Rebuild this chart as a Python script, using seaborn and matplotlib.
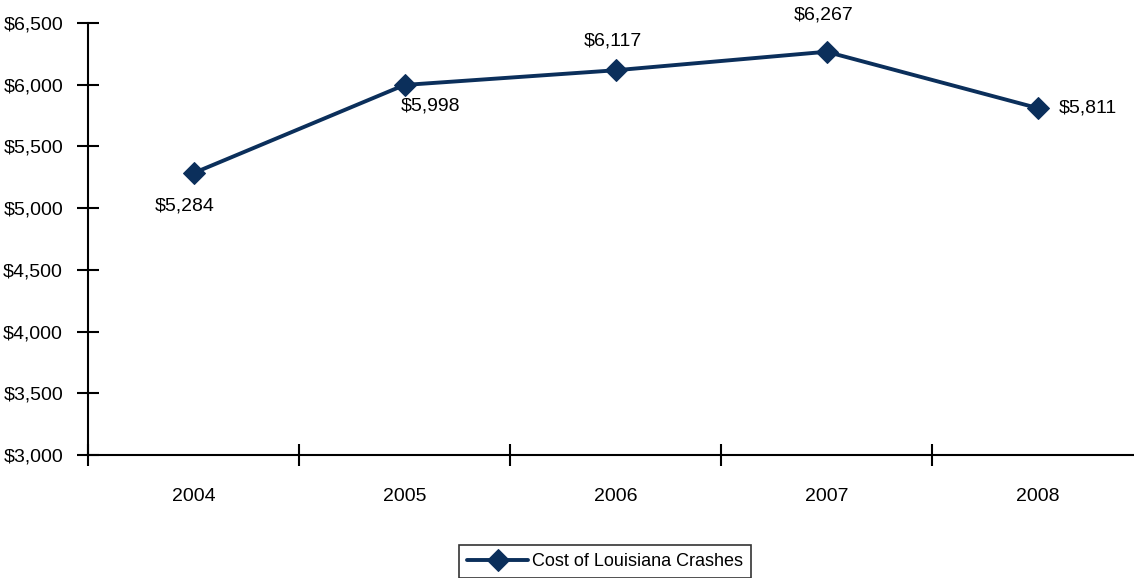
import matplotlib
matplotlib.use('Agg')
import matplotlib.pyplot as plt
import seaborn as sns
import pandas as pd
from matplotlib.ticker import FuncFormatter, FixedLocator

# Data
years = ['2004', '2005', '2006', '2007', '2008']
cost = [5284, 5998, 6117, 6267, 5811]
series_name = 'Cost of Louisiana Crashes'

data = pd.DataFrame({'pos': range(len(years)), 'cost': cost})

sns.set_style('white')
plt.rcParams['font.family'] = ['Liberation Sans Narrow', 'Liberation Sans', 'DejaVu Sans']
plt.rcParams['text.color'] = 'black'
plt.rcParams['xtick.color'] = 'black'
plt.rcParams['ytick.color'] = 'black'

fig = plt.figure(figsize=(11.34, 5.78), dpi=100)
ax = fig.add_axes([88 / 1134, 1 - 455 / 578, (1143 - 88) / 1134, (455 - 23) / 578])

color = '#0B2F5B'
sns.lineplot(data=data, x='pos', y='cost', ax=ax, color=color, linewidth=2.8,
             marker='D', markersize=11, markeredgecolor=color, label=series_name, legend=False)

# Data labels (offsets in pixels)
offsets = [(-9, -33), (26, -21), (-3, 29), (-3, 37), (50, 0)]
for i, v in enumerate(cost):
    dx, dy = offsets[i]
    ax.annotate(f'${v:,}', (i, v), xytext=(dx, dy), textcoords='offset pixels',
                ha='center', va='center', fontsize=14, color='black')

ax.set_xlim(-0.5, 4.5)
ax.set_ylim(3000, 6500)
ax.set_yticks(range(3000, 6501, 500))
ax.yaxis.set_major_formatter(FuncFormatter(lambda v, p: f'${int(v):,}'))

ax.xaxis.set_major_locator(FixedLocator([-0.5, 0.5, 1.5, 2.5, 3.5, 4.5]))
ax.xaxis.set_major_formatter(FuncFormatter(lambda v, p: ''))
ax.set_xticks(range(len(years)), minor=True)
ax.set_xticklabels(years, minor=True)
ax.tick_params(axis='x', which='minor', bottom=True, length=0, pad=24, labelsize=14)
ax.tick_params(axis='x', which='major', bottom=True, direction='inout', length=16, width=1.5)
ax.tick_params(axis='y', left=True, direction='inout', length=16, width=1.5, labelsize=14, pad=10)
ax.set_xlabel('')
ax.set_ylabel('')

for s in ['top', 'right']:
    ax.spines[s].set_visible(False)
for s in ['left', 'bottom']:
    ax.spines[s].set_color('black')
    ax.spines[s].set_linewidth(1.5)

handles, labels = ax.get_legend_handles_labels()
leg = fig.legend(handles, labels, loc='upper center', bbox_to_anchor=(605 / 1134, 1 - 536 / 578),
                 fontsize=13, frameon=True, fancybox=False, edgecolor='black', handlelength=3.4,
                 borderpad=0.45, handletextpad=0.2)
leg.get_frame().set_linewidth(1.2)

fig.savefig('out.png', dpi=100)
